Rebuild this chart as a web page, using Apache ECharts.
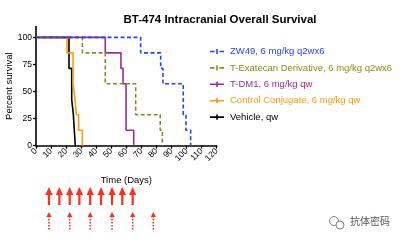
<!DOCTYPE html>
<html>
<head>
<meta charset="utf-8">
<script src="https://cdn.jsdelivr.net/npm/echarts@6/dist/echarts.min.js"></script>
<style>
html, body { margin: 0; padding: 0; background: #fff; }
#chart { width: 402px; height: 242px; }
</style>
</head>
<body>
<div id="chart"></div>
<script>
// survival curves: [day, percent surviving], steps drop at each day
var zw49 = [[0, 100], [69.5, 85.7], [82.8, 71.4], [84.3, 57.1], [97.8, 28.6], [99.6, 14.3], [102.7, 0]];
var texatecan = [[0, 100], [30.8, 85.7], [46, 57.1], [66.2, 28.6], [82.5, 14.3], [83.9, 0]];
var tdm1 = [[0, 100], [46, 85.7], [56.4, 71.4], [57.8, 57.1], [59.8, 14.3], [64.9, 0]];
var controlConj = [[0, 100], [20.6, 85.7], [24.6, 57.1], [25.9, 42.9], [26.8, 28.6], [28.3, 14.3], [30.8, 0]];
var vehicle = [[0, 100], [21.9, 71.4], [23.7, 42.9], [24.8, 28.6], [26.1, 0]];

var seriesNames = ['ZW49, 6 mg/kg q2wx6', 'T-Exatecan Derivative, 6 mg/kg q2wx6', 'T-DM1, 6 mg/kg qw', 'Control Conjugate, 6 mg/kg qw', 'Vehicle, qw'];
var seriesColors = ['#2244ff', '#8c8c1c', '#9a2c9a', '#ff9a10', '#000000'];
var seriesDashed = [true, true, false, false, false];
var seriesData = [zw49, texatecan, tdm1, controlConj, vehicle];

// dosing days (arrows under the axis)
var weeklyDoseDays = [8.6, 15.5, 22.4, 28.8, 36, 43.2, 50.5, 57.3, 64.2];
var biweeklyDoseDays = [8.6, 22.4, 36, 50.5, 64.2, 77.9];

var xTicks = [0, 120, 10];
var yTicks = [0, 100, 25];

var chart = echarts.init(document.getElementById('chart'));

var font = 'Liberation Sans, Arial, sans-serif';

// legend icons: a short line with a small tick in the middle
var dashedIcon = 'path://M0,4.2h4.6v1.6H0z M6.2,2.4h1.6v5.2H6.2z M9.4,4.2H14v1.6H9.4z';
var solidIcon = 'path://M0,4.2h14v1.6H0z M6.2,2.4h1.6v5.2H6.2z';

var series = seriesData.map(function (d, i) {
    return {
        name: seriesNames[i],
        type: 'line',
        step: 'end',
        data: d,
        xAxisIndex: 0,
        yAxisIndex: 0,
        symbol: 'none',
        silent: true,
        z: 10 - i,
        lineStyle: { color: seriesColors[i], width: 1.6, type: seriesDashed[i] ? [4, 2.5] : 'solid' },
        itemStyle: { color: seriesColors[i] }
    };
});

var arrowRed = '#ff2d1a';
function arrowItem(params, api) {
    var p = api.coord([api.value(0), api.value(1)]);
    var dotted = api.value(1) === 1;
    var len = 18;
    var hw = dotted ? 2.6 : 3.6;
    var hh = dotted ? 5 : 8;
    return {
        type: 'group',
        children: [
            {
                type: 'polygon',
                shape: { points: [[p[0], p[1]], [p[0] - hw, p[1] + hh], [p[0] + hw, p[1] + hh]] },
                style: { fill: arrowRed }
            },
            {
                type: 'line',
                shape: { x1: p[0], y1: p[1] + hh - 1, x2: p[0], y2: p[1] + len },
                style: { stroke: arrowRed, lineWidth: dotted ? 1.6 : 2.2, lineDash: dotted ? [1.5, 1.5] : null }
            }
        ]
    };
}

series.push({
    type: 'custom',
    xAxisIndex: 1,
    yAxisIndex: 1,
    silent: true,
    renderItem: arrowItem,
    data: weeklyDoseDays.map(function (d) { return [d, 0]; })
        .concat(biweeklyDoseDays.map(function (d) { return [d, 1]; }))
});

var option = {
    animation: false,
    backgroundColor: '#fff',
    title: {
        text: 'BT-474 Intracranial Overall Survival',
        left: 215,
        textAlign: 'center',
        top: 9,
        textStyle: { fontFamily: font, fontSize: 11.5, fontWeight: 'bold', color: '#000' }
    },
    legend: {
        orient: 'vertical',
        left: 205,
        top: 41.5,
        itemWidth: 14,
        itemHeight: 10,
        itemGap: 6.4,
        selectedMode: false,
        textStyle: { fontFamily: font, fontSize: 9.5, padding: [0, 0, 0, 1] },
        data: seriesNames.map(function (n, i) {
            return {
                name: n,
                icon: seriesDashed[i] ? dashedIcon : solidIcon,
                itemStyle: { color: seriesColors[i] },
                textStyle: { color: seriesColors[i] }
            };
        })
    },
    grid: [
        { left: 36, top: 26.5, width: 180.7, height: 119.2 },
        { left: 36, top: 187, width: 180.7, height: 25 }
    ],
    xAxis: [
        {
            type: 'value',
            gridIndex: 0,
            min: xTicks[0], max: xTicks[1], interval: xTicks[2],
            name: 'Time (Days)',
            nameLocation: 'middle',
            nameGap: 30,
            nameTextStyle: { fontFamily: font, fontSize: 9.5, color: '#000' },
            splitLine: { show: false },
            axisLine: { lineStyle: { color: '#000', width: 1.6 } },
            axisTick: { length: 3, lineStyle: { color: '#000', width: 1.3 } },
            axisLabel: { rotate: 45, margin: 4, fontFamily: font, fontSize: 8.5, color: '#000' }
        },
        { type: 'value', gridIndex: 1, min: xTicks[0], max: xTicks[1], show: false }
    ],
    yAxis: [
        {
            type: 'value',
            gridIndex: 0,
            min: yTicks[0], max: 110, interval: yTicks[2],
            name: 'Percent survival',
            nameLocation: 'middle',
            nameGap: 21,
            nameTextStyle: { fontFamily: font, fontSize: 9.5, color: '#000' },
            splitLine: { show: false },
            axisLine: { show: true, lineStyle: { color: '#000', width: 1.6 } },
            axisTick: { show: true, length: 3, lineStyle: { color: '#000', width: 1.3 } },
            axisLabel: {
                margin: 4, fontFamily: font, fontSize: 8.5, color: '#000', showMaxLabel: false,
                formatter: function (v) { return v % 25 === 0 ? v : ''; }
            }
        },
        { type: 'value', gridIndex: 1, min: 0, max: 1, inverse: true, show: false }
    ],
    graphic: [
        {
            type: 'group', left: 327, top: 214, silent: true,
            children: [
                { type: 'circle', shape: { cx: 5, cy: 5, r: 4.5 }, style: { fill: 'none', stroke: '#777', lineWidth: 0.9 } },
                { type: 'circle', shape: { cx: 11, cy: 9, r: 4 }, style: { fill: '#fff', stroke: '#777', lineWidth: 0.9 } }
            ]
        },
        {
            type: 'text', left: 350, top: 216, silent: true,
            style: { text: '抗体密码', fontFamily: 'Noto Sans CJK SC', fontSize: 10, fill: '#555' }
        }
    ],
    series: series
};

chart.setOption(option);
</script>
</body>
</html>
